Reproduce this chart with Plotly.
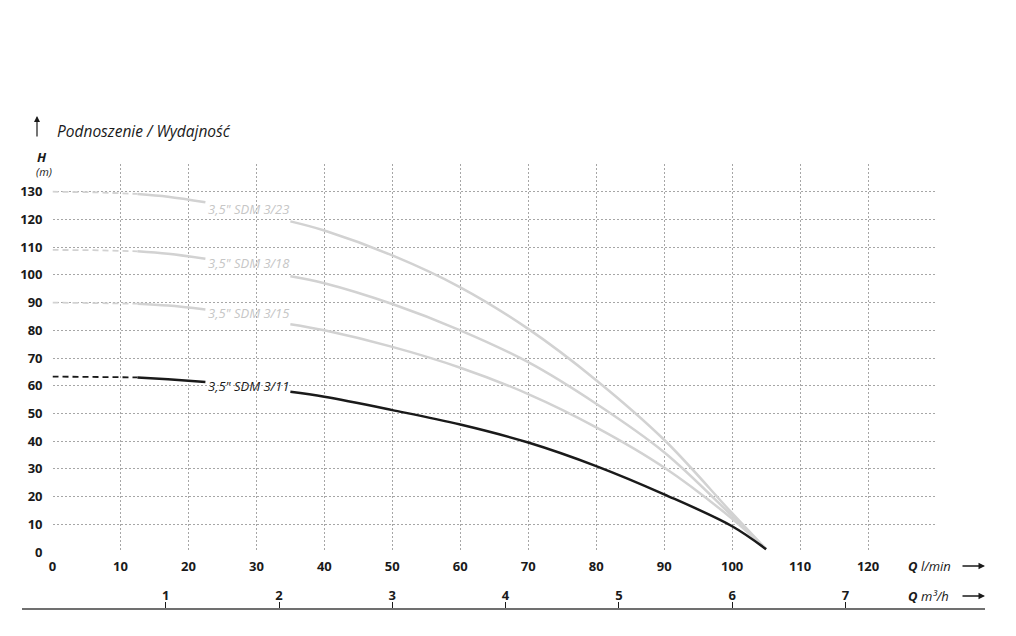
import plotly.graph_objects as go

# flow in l/min (shared by every curve)
q_lmin = [0, 6, 12.5, 17, 22.5, 35, 40, 50, 60, 70, 80, 90, 100, 105]

# head in m
h_sdm_3_23 = [130, 129.8, 129.2, 128.2, 126.2, 119.3, 116, 107, 95.5, 80.5, 62, 40.5, 14, 1]
h_sdm_3_18 = [109, 108.9, 108.5, 107.6, 105.8, 99.5, 97, 89.5, 80, 68.5, 53.5, 36, 13, 1]
h_sdm_3_15 = [90, 89.9, 89.6, 88.9, 87.5, 82.2, 80, 74, 66.5, 57, 45, 30.5, 12, 1]
h_sdm_3_11 = [63.3, 63.2, 63, 62.3, 61.3, 57.8, 56, 51.2, 46, 39.5, 31, 20.8, 9.3, 1]

series_names = ['3,5" SDM 3/23', '3,5" SDM 3/18', '3,5" SDM 3/15', '3,5" SDM 3/11']
label_heads = [123.8, 104.3, 86.3, 59.9]

x_ticks = [0, 10, 20, 30, 40, 50, 60, 70, 80, 90, 100, 110, 120, 130]
y_ticks = [0, 10, 20, 30, 40, 50, 60, 70, 80, 90, 100, 110, 120, 130, 140]
m3h_ticks = [1, 2, 3, 4, 5, 6, 7]

GRAY = "#d2d2d2"
DARK = "#1a1a1a"
FONT = "Open Sans, sans-serif"
GRID = "#a6a6a6"

# page geometry (pixels) of the drawing area
L, R, T, B = 22, 985, 164, 616
X0, X1 = 52.5, 936
Y0 = 552


def px_x(x):
    return (x - L) / (R - L)


def px_y(y):
    return (B - y) / (B - T)


fig = go.Figure()

curves = [h_sdm_3_23, h_sdm_3_18, h_sdm_3_15, h_sdm_3_11]
colors = [GRAY, GRAY, GRAY, DARK]

for h, c in zip(curves, colors):
    # dashed start
    fig.add_trace(go.Scatter(x=q_lmin[0:3], y=h[0:3], mode="lines",
                             line=dict(color=c, width=1.8, dash="6px,4px"),
                             hoverinfo="skip", showlegend=False))
    # solid part before the label
    fig.add_trace(go.Scatter(x=q_lmin[2:5], y=h[2:5], mode="lines",
                             line=dict(color=c, width=2.5, shape="spline"),
                             hoverinfo="skip", showlegend=False))
    # solid part after the label
    fig.add_trace(go.Scatter(x=q_lmin[5:], y=h[5:], mode="lines",
                             line=dict(color=c, width=2.5, shape="spline", smoothing=1),
                             hoverinfo="skip", showlegend=False))

# dummy trace so the m3/h axis gets drawn
fig.add_trace(go.Scatter(x=[None], y=[None], xaxis="x2", yaxis="y2",
                         showlegend=False, hoverinfo="skip"))

for name, yh, c in zip(series_names, label_heads, colors):
    fig.add_annotation(x=22.6, y=yh, text="<i>" + name + "</i>", showarrow=False,
                       xanchor="left", yanchor="middle",
                       font=dict(family=FONT, size=13, color=c if c == DARK else "#c6c6c6"))

# titles / axis captions
fig.add_annotation(xref="paper", yref="paper", x=px_x(55), y=px_y(131),
                   text="<i>Podnoszenie / Wydajność</i>", showarrow=False,
                   xanchor="left", yanchor="middle",
                   font=dict(family=FONT, size=15.5, color=DARK))
fig.add_annotation(xref="paper", yref="paper", x=px_x(37), y=px_y(116),
                   ax=0, ay=22, text="", showarrow=True, arrowhead=2,
                   arrowsize=1, arrowwidth=1.2, arrowcolor=DARK)
fig.add_annotation(xref="paper", yref="paper", x=px_x(35), y=px_y(157),
                   text="<b><i>H</i></b>", showarrow=False, yanchor="middle",
                   font=dict(family=FONT, size=13, color=DARK))
fig.add_annotation(xref="paper", yref="paper", x=px_x(34), y=px_y(171),
                   text="<i>(m)</i>", showarrow=False, yanchor="middle",
                   font=dict(family=FONT, size=11, color=DARK))
for ypx, unit in [(566, "l/min"), (596, "m³/h")]:
    fig.add_annotation(xref="paper", yref="paper", x=px_x(906), y=px_y(ypx),
                       text="<b><i>Q</i></b> <i>" + unit + "</i>", showarrow=False,
                       xanchor="left", yanchor="middle",
                       font=dict(family=FONT, size=13, color=DARK))
    fig.add_annotation(xref="paper", yref="paper", x=px_x(985), y=px_y(ypx),
                       ax=-24, ay=0, text="", showarrow=True, arrowhead=2,
                       arrowsize=1, arrowwidth=1.3, arrowcolor=DARK)

m3h_per_px = 1 / ((X1 - X0) / 130 * 1000 / 60)

fig.update_layout(
    width=1016, height=636,
    margin=dict(l=L, r=1016 - R, t=T, b=636 - B),
    paper_bgcolor="white", plot_bgcolor="rgba(0,0,0,0)",
    font=dict(family=FONT, color=DARK),
    xaxis=dict(
        domain=[px_x(X0), px_x(X1)], range=[0, 130], anchor="y",
        tickvals=x_ticks, ticktext=[str(v) if v < 130 else "" for v in x_ticks],
        showgrid=True, gridcolor=GRID, griddash="2px,2px", gridwidth=1,
        zeroline=False, showline=False, ticks="", ticklabelstandoff=5,
        tickfont=dict(family=FONT, size=13, color=DARK, weight="bold"),
        automargin=False,
    ),
    yaxis=dict(
        domain=[px_y(Y0), 1], range=[0, 140], anchor="x",
        tickvals=y_ticks, ticktext=[str(v) if v < 140 else "" for v in y_ticks],
        showgrid=True, gridcolor=GRID, griddash="2px,2px", gridwidth=1,
        zeroline=False, showline=False, ticks="", ticklabelstandoff=9,
        tickfont=dict(family=FONT, size=13, color=DARK, weight="bold"),
        automargin=False,
    ),
    xaxis2=dict(
        domain=[0, 1], anchor="y2", side="top",
        range=[(L - X0) * m3h_per_px, (R - X0) * m3h_per_px],
        tickvals=m3h_ticks, showgrid=False, zeroline=False,
        showline=True, linecolor="#707070", linewidth=2,
        ticks="outside", ticklen=6, tickwidth=1, tickcolor=DARK,
        ticklabelstandoff=-3,
        tickfont=dict(family=FONT, size=13, color=DARK, weight="bold"),
        automargin=False,
    ),
    yaxis2=dict(domain=[0, px_y(610)], anchor="x2", visible=False, range=[0, 1]),
)

fig.write_html("out.html", config={"displayModeBar": False},
               post_script="document.body.style.margin='0px';")
